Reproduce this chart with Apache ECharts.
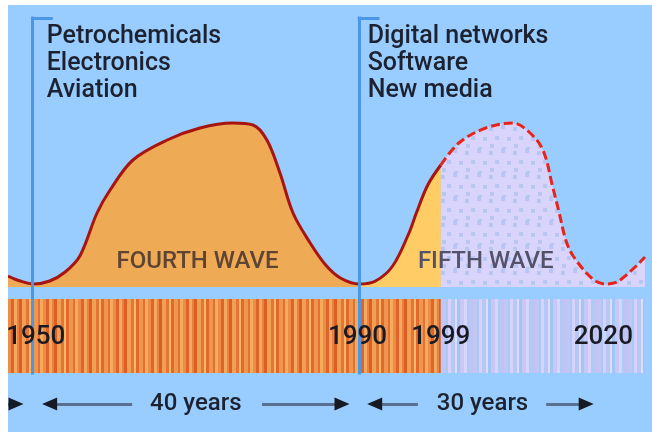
<!DOCTYPE html>
<html><head><meta charset="utf-8">
<script src="https://cdn.jsdelivr.net/npm/echarts@6/dist/echarts.min.js"></script>
<style>
html,body{margin:0;padding:0;background:#fff;}
#main{position:absolute;left:8px;top:5px;width:644px;height:427px;}
</style></head><body><div id="main"></div>
<script>
// ---- data ----
const curveYears  = [1947, 1948.5, 1950.1, 1952.1, 1954, 1955.8, 1957.9, 1959.5, 1962.3, 1966.5, 1970.5, 1974.5, 1977, 1978.7, 1980.3, 1981.9, 1984, 1985.9, 1987.7, 1990, 1992, 1994.1, 1996.1, 1997, 1998.4, 2000, 2002.2, 2005.5, 2008.8, 2010.8, 2012.5, 2013.7, 2014.5, 2015.3, 2016.2, 2018.6, 2020.2, 2021.8, 2025];
const curveValues = [5.5, 3, 1.5, 3, 7.5, 15.5, 37, 48.5, 63.5, 73.5, 79.5, 82, 81, 73.5, 57, 37, 22, 11, 4.5, 1.5, 3, 10.5, 27, 37, 51, 61, 72, 79.5, 82, 77.5, 68.5, 50, 37, 23.5, 15.5, 4, 1.5, 3, 15];
const splitYear = 2000;          // end of solid line / start of forecast
const firstWaveEnd = 1990;
const tickPositions = [1950.4, 1989.8, 2000, 2019.9];
const tickLabels = ['1950', '1990', '1999', '2020'];
const waveLineYears = [1950, 1990];
const leftTopics = ['Petrochemicals', 'Electronics', 'Aviation'];
const rightTopics = ['Digital networks', 'Software', 'New media'];
const waveNames = ['FOURTH WAVE', 'FIFTH WAVE'];
const spanLabels = ['40 years', '30 years'];

// ---- textures ----
function stripePattern(stripes) {
  const w = stripes.reduce((s, d) => s + d[1], 0);
  const c = document.createElement('canvas');
  c.width = w; c.height = 4;
  const g = c.getContext('2d');
  let x = 0;
  stripes.forEach(d => { g.fillStyle = d[0]; g.fillRect(x, 0, d[1], 4); x += d[1]; });
  return { image: c, repeat: 'repeat' };
}
function dotPattern(bg, dot, dots, size) {
  const c = document.createElement('canvas');
  c.width = size; c.height = size;
  const g = c.getContext('2d');
  g.fillStyle = bg; g.fillRect(0, 0, size, size);
  g.fillStyle = dot;
  dots.forEach(d => g.fillRect(d[0], d[1], 4, 4));
  return { image: c, repeat: 'repeat' };
}
const orangeBand = stripePattern([['#ec8c48',3],['#e0642a',3],['#f2a860',3],['#e9823e',2],['#dc5e22',3],['#f0a055',4],['#e67436',3],['#f5b868',2],['#e2692c',3],['#ee9650',4],['#e47034',2],['#f3ac5c',3]]);
const lavBand = stripePattern([['#c3c6f4',4],['#a6cbf6',2],['#d6d2fb',3],['#b8c8f6',4],['#e0dcfd',2],['#9fc6f4',3],['#c8c8f6',4],['#d8d4fb',3],['#aacdf7',2],['#bfc4f3',4]]);
const lavDots = dotPattern('#d8d4fb', '#b9c6f2', [[1,2],[13,0],[7,11],[19,12],[2,19],[14,22]], 24);

// ---- build ----
const pts = curveYears.map((y, i) => [y, curveValues[i]]);
const pastData = pts.filter(p => p[0] <= splitYear);
const futureData = pts.filter(p => p[0] >= splitYear);
const frac = (firstWaveEnd - pastData[0][0]) / (splitYear - pastData[0][0]);

const FONT = 'Roboto';
const vTop = 134.5, vBottom = -43, arrowY = -58.5, tickY = -25;
const txt = (coord, text, opts) => ({
  coord: coord, symbol: 'rect', symbolSize: 1, itemStyle: { color: 'rgba(0,0,0,0)' },
  label: Object.assign({ show: true, formatter: () => text, fontFamily: FONT }, opts)
});
const head = (coord, dir) => ({
  coord: coord, symbolSize: [15, 13],
  symbol: dir > 0 ? 'path://M0,0L15,6.5L0,13Z' : 'path://M15,0L0,6.5L15,13Z',
  itemStyle: { color: '#161a22' }, label: { show: false }
});
const blueLine = { color: '#4b97e6', width: 3, type: 'solid', cap: 'square' };
const arrowLine = { color: '#5a7090', width: 3, type: 'solid' };

const markLines = [];
waveLineYears.forEach(y => {
  markLines.push([{ coord: [y, vTop], lineStyle: blueLine }, { coord: [y, vBottom] }]);
  markLines.push([{ coord: [y, vTop], lineStyle: blueLine }, { coord: [y + 2.3, vTop] }]);
});
[[1947, 1947.98], [1952.1, 1962.2], [1978.1, 1987.9], [1991.9, 1997.2], [2012.9, 2017.8]].forEach(s => {
  markLines.push([{ coord: [s[0], arrowY], lineStyle: arrowLine }, { coord: [s[1], arrowY] }]);
});

const topicStyle = { position: [0, 0], align: 'left', verticalAlign: 'top', fontSize: 25, fontWeight: 500, lineHeight: 27, color: '#1c2230' };
const tickStyle = { position: 'inside', fontSize: 26, fontWeight: 500, color: '#1a1a24' };
const markPoints = [
  txt([1951.8, 131.5], leftTopics.join('\n'), topicStyle),
  txt([1991.1, 131.5], rightTopics.join('\n'), topicStyle),
  txt([1970.2, 12.5], waveNames[0], { position: 'inside', fontSize: 24, fontWeight: 500, color: '#5e4432' }),
  txt([2005.5, 12.5], waveNames[1], { position: 'inside', fontSize: 24, fontWeight: 500, color: '#545268' }),
  txt([1970.0, arrowY], spanLabels[0], { position: 'inside', fontSize: 24, fontWeight: 500, color: '#1c2230' }),
  txt([2005.1, arrowY], spanLabels[1], { position: 'inside', fontSize: 24, fontWeight: 500, color: '#1c2230' }),
  head([1947.98, arrowY], 1), head([1952.1, arrowY], -1), head([1987.9, arrowY], 1),
  head([1991.9, arrowY], -1), head([2017.8, arrowY], 1)
].concat(tickPositions.map((p, i) => txt([p, tickY], tickLabels[i], tickStyle)));

const chart = echarts.init(document.getElementById('main'));
chart.setOption({
  animation: false,
  backgroundColor: '#99ccff',
  grid: { left: 0, right: 7, top: 0, bottom: 0, containLabel: false },
  xAxis: {
    type: 'value', min: 1947, max: 2025, show: false,
    axisLine: { show: false }, axisTick: { show: false }, splitLine: { show: false }, axisLabel: { show: false }
  },
  yAxis: { type: 'value', min: -72.5, max: 141, show: false, splitLine: { show: false } },
  series: [
    {
      type: 'line', data: pastData, smooth: 0.35, symbol: 'none', z: 3,
      lineStyle: { color: '#a81410', width: 3 },
      areaStyle: {
        opacity: 1,
        color: new echarts.graphic.LinearGradient(0, 0, 1, 0, [
          { offset: 0, color: '#eeaa55' }, { offset: frac, color: '#eeaa55' },
          { offset: frac, color: '#ffcc66' }, { offset: 1, color: '#ffcc66' }])
      },
      markArea: {
        silent: true,
        data: [
          [{ coord: [1947, -6], itemStyle: { color: orangeBand } }, { coord: [splitYear, vBottom] }],
          [{ coord: [splitYear, -6], itemStyle: { color: lavBand } }, { coord: [2025, vBottom] }]
        ]
      },
      markLine: { silent: true, symbol: ['none', 'none'], label: { show: false }, data: markLines, z: 4 },
      markPoint: { silent: true, data: markPoints, z: 6 }
    },
    {
      type: 'line', data: futureData, smooth: 0.35, symbol: 'none', z: 3,
      lineStyle: { color: '#e8231a', width: 3, type: [9, 4] },
      areaStyle: { opacity: 1, color: lavDots }
    }
  ]
});
</script></body></html>
